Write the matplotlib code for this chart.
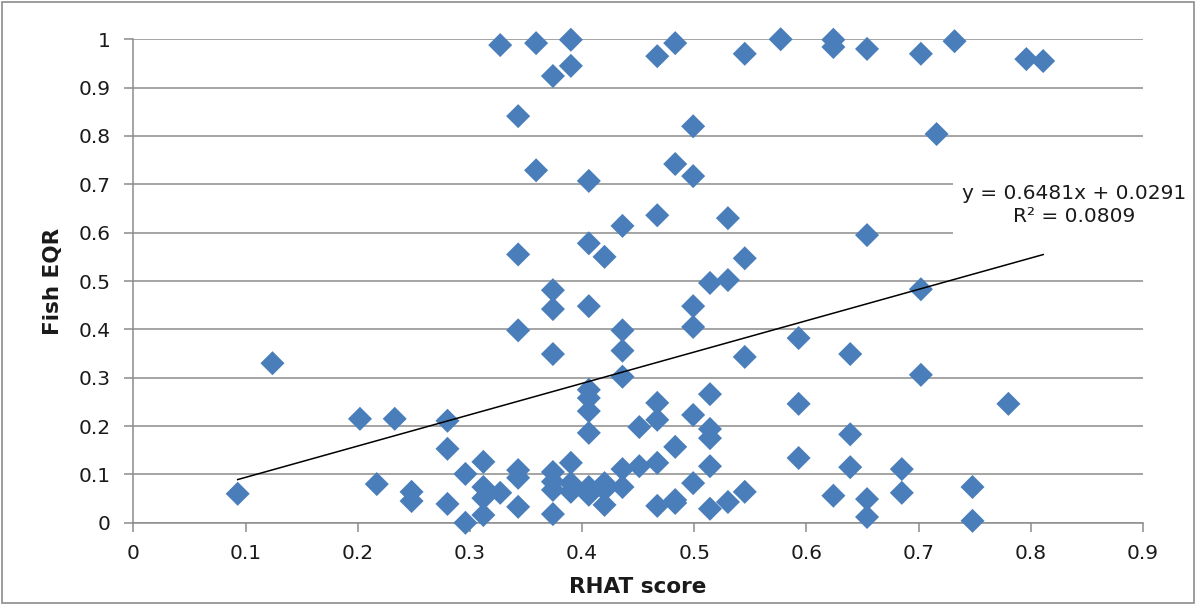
import matplotlib.pyplot as plt
from matplotlib.patches import Rectangle
import numpy as np

plt.rcParams['font.family'] = ['DejaVu Sans']

# RHAT score (x) and Fish EQR (y)
rhat = [0.327, 0.359, 0.390, 0.390, 0.374, 0.467, 0.483, 0.545, 0.577, 0.624,
        0.624, 0.654, 0.702, 0.732, 0.796, 0.811, 0.343, 0.499, 0.716, 0.359,
        0.483, 0.499, 0.406, 0.467, 0.436, 0.530, 0.654, 0.406, 0.420, 0.343,
        0.545, 0.514, 0.530, 0.374, 0.702, 0.374, 0.406, 0.499, 0.343, 0.436,
        0.499, 0.593, 0.374, 0.436, 0.545, 0.639, 0.124, 0.436, 0.702, 0.406,
        0.406, 0.406, 0.406, 0.514, 0.467, 0.593, 0.780, 0.499, 0.467, 0.451,
        0.514, 0.514, 0.639, 0.202, 0.233, 0.280, 0.280, 0.483, 0.593, 0.296,
        0.312, 0.343, 0.343, 0.374, 0.374, 0.374, 0.374, 0.390, 0.436, 0.451,
        0.467, 0.514, 0.639, 0.685, 0.217, 0.248, 0.248, 0.280, 0.296, 0.312,
        0.312, 0.312, 0.327, 0.343, 0.093, 0.390, 0.390, 0.406, 0.406, 0.420,
        0.420, 0.420, 0.436, 0.467, 0.483, 0.483, 0.499, 0.514, 0.530, 0.545,
        0.624, 0.654, 0.654, 0.685, 0.748, 0.748]
eqr = [0.988, 0.992, 0.999, 0.945, 0.924, 0.965, 0.992, 0.970, 1.000, 0.999,
       0.984, 0.980, 0.970, 0.996, 0.959, 0.955, 0.841, 0.820, 0.804, 0.729,
       0.742, 0.717, 0.707, 0.636, 0.614, 0.630, 0.595, 0.578, 0.550, 0.555,
       0.547, 0.496, 0.502, 0.481, 0.483, 0.442, 0.448, 0.448, 0.398, 0.398,
       0.405, 0.382, 0.349, 0.356, 0.343, 0.349, 0.330, 0.302, 0.306, 0.275,
       0.258, 0.231, 0.186, 0.266, 0.248, 0.246, 0.246, 0.223, 0.213, 0.198,
       0.194, 0.175, 0.183, 0.215, 0.215, 0.211, 0.153, 0.157, 0.134, 0.101,
       0.126, 0.109, 0.093, 0.105, 0.085, 0.068, 0.018, 0.124, 0.111, 0.117,
       0.124, 0.117, 0.115, 0.111, 0.080, 0.064, 0.045, 0.039, 0.000, 0.074,
       0.051, 0.016, 0.062, 0.033, 0.060, 0.082, 0.064, 0.074, 0.058, 0.082,
       0.068, 0.037, 0.074, 0.035, 0.047, 0.041, 0.082, 0.029, 0.043, 0.064,
       0.056, 0.049, 0.012, 0.062, 0.074, 0.004]

# linear trendline as reported on the chart
slope = 0.6481
intercept = 0.0291
r2 = 0.0809

xticks = [0, 0.1, 0.2, 0.3, 0.4, 0.5, 0.6, 0.7, 0.8, 0.9]
yticks = [0, 0.1, 0.2, 0.3, 0.4, 0.5, 0.6, 0.7, 0.8, 0.9, 1]

fig = plt.figure(figsize=(11.96, 6.05), dpi=100)
ax = fig.add_axes([0.1115, 0.1359, 0.8442, 0.7992])

grid_col = '#8c8c8c'
txt_col = '#1a1a1a'
ax.set_axisbelow(True)
ax.yaxis.grid(True, color=grid_col, linewidth=1.1)

ax.scatter(rhat, eqr, marker='D', s=150, color='#4a7ebb', edgecolors='none',
           zorder=3, clip_on=False)

xs = np.array([min(rhat), max(rhat)])
ax.plot(xs, slope * xs + intercept, color='black', linewidth=1.1, zorder=4)

ax.set_xlim(0, 0.9)
ax.set_ylim(0, 1)
ax.set_xticks(xticks)
ax.set_yticks(yticks)
ax.set_xticklabels([f'{t:g}' for t in xticks])
ax.set_yticklabels([f'{t:g}' for t in yticks])
ax.tick_params(axis='both', labelsize=14.5, color=grid_col, length=6.5, width=1.1,
               labelcolor=txt_col)
ax.tick_params(axis='x', pad=9)
ax.tick_params(axis='y', pad=10)
for s in ['top', 'right']:
    ax.spines[s].set_visible(False)
for s in ['left', 'bottom']:
    ax.spines[s].set_color(grid_col)
    ax.spines[s].set_linewidth(1.1)

ax.set_xlabel('RHAT score', fontsize=15.5, fontweight='bold', color=txt_col)
ax.set_ylabel('Fish EQR', fontsize=15.5, fontweight='bold', color=txt_col)
ax.xaxis.set_label_coords(0.5, -0.112)
ax.yaxis.set_label_coords(-0.07, 0.5)

# equation label sits on a white box that hides the gridlines behind it
ax.text(0.839, 0.657, f'y = {slope}x + {intercept}\nR² = {r2}',
        fontsize=14.5, ha='center', va='center', multialignment='center',
        linespacing=1.25, color=txt_col, zorder=5,
        bbox=dict(facecolor='white', edgecolor='none', pad=7))

fig.patches.append(Rectangle((0.002, 0.003), 0.996, 0.994, transform=fig.transFigure,
                             fill=False, edgecolor='#8c8c8c', linewidth=1.2))

fig.savefig('out.png', dpi=100)
